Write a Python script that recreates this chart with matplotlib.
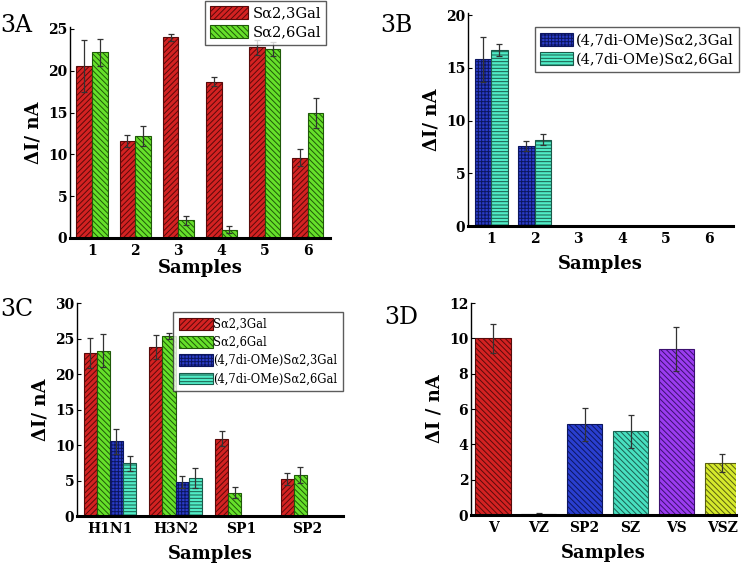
import matplotlib
matplotlib.use("Agg")
import matplotlib.pyplot as plt
import numpy as np

plt.rcParams['font.family'] = ['DejaVu Serif']
plt.rcParams['hatch.linewidth'] = 0.7

# ---- donnees panneau 3A ----
samplesA = ['1', '2', '3', '4', '5', '6']
a23 = [20.6, 11.6, 24.0, 18.7, 22.8, 9.6]
a23_err = [3.1, 0.7, 0.4, 0.55, 0.9, 1.0]
a26 = [22.2, 12.2, 2.1, 1.0, 22.6, 15.0]
a26_err = [1.6, 1.2, 0.5, 0.45, 0.8, 1.8]

# ---- donnees panneau 3B ----
samplesB = ['1', '2', '3', '4', '5', '6']
b23 = [15.8, 7.6, 0, 0, 0, 0]
b23_err = [2.1, 0.45, 0, 0, 0, 0]
b26 = [16.7, 8.2, 0, 0, 0, 0]
b26_err = [0.55, 0.5, 0, 0, 0, 0]

# ---- donnees panneau 3C ----
samplesC = ['H1N1', 'H3N2', 'SP1', 'SP2']
c23 = [23.0, 23.8, 10.9, 5.2]
c23_err = [2.1, 1.75, 1.05, 0.85]
c26 = [23.3, 25.4, 3.3, 5.75]
c26_err = [2.3, 0.4, 0.8, 1.1]
c23me = [10.5, 4.8, 0, 0]
c23me_err = [1.75, 0.8, 0, 0]
c26me = [7.4, 5.4, 0, 0]
c26me_err = [1.0, 1.4, 0, 0]

# ---- donnees panneau 3D ----
samplesD = ['V', 'VZ', 'SP2', 'SZ', 'VS', 'VSZ']
dvals = [10.0, 0.06, 5.15, 4.75, 9.4, 2.95]
derr = [0.83, 0.05, 0.93, 0.93, 1.25, 0.5]
dcolors = ['#d42222', '#1a1a1a', '#2a3fd0', '#48e0c0', '#9b3cf0', '#d6ea2c']
dedges = ['#5a0a0a', '#1a1a1a', '#0c1660', '#1a6050', '#3c1070', '#5a6010']

RED, RED_E = '#d42222', '#5a0a0a'
GREEN, GREEN_E = '#66e02a', '#1f5a08'
BLUE, BLUE_E = '#2a3cc8', '#0c1660'
TEAL, TEAL_E = '#50ecc6', '#1a5a4a'

lab = 'S\u03b12,3Gal'
lab6 = 'S\u03b12,6Gal'
labme = '(4,7di-OMe)S\u03b12,3Gal'
labme6 = '(4,7di-OMe)S\u03b12,6Gal'

ekw = dict(ecolor='#333333', elinewidth=0.9, capsize=2.5, capthick=0.9)

fig = plt.figure(figsize=(7.42, 5.68), dpi=100)


#Fonction qui met en forme un axe
def style(ax, ymax, step, names, ylab, xpad=2):
    ax.set_ylim(0, ymax)
    ax.set_yticks(np.arange(0, ymax + 0.01, step))
    ax.set_xticks(np.arange(len(names)))
    ax.set_xticklabels(names)
    ax.spines['top'].set_visible(False)
    ax.spines['right'].set_visible(False)
    ax.spines['left'].set_linewidth(1.0)
    ax.spines['bottom'].set_linewidth(2.2)
    ax.tick_params(axis='y', direction='in', length=3, width=0.8, labelsize=10, pad=2)
    ax.tick_params(axis='x', length=0, labelsize=10, pad=4)
    for t in ax.get_xticklabels() + ax.get_yticklabels():
        t.set_fontweight('bold')
    ax.set_xlabel('Samples', fontsize=13, fontweight='bold', labelpad=xpad)
    ax.set_ylabel(ylab, fontsize=13, fontweight='bold', labelpad=4)


# ---- 3A ----
axA = fig.add_axes([0.0943, 0.581, 0.3504, 0.371])
x = np.arange(len(samplesA))
w = 0.36
axA.bar(x - w/2, a23, w, yerr=a23_err, color=RED, edgecolor=RED_E, hatch='//////', linewidth=0.8, label=lab, error_kw=ekw)
axA.bar(x + w/2, a26, w, yerr=a26_err, color=GREEN, edgecolor=GREEN_E, hatch='\\\\\\\\\\\\', linewidth=0.8, label=lab6, error_kw=ekw)
axA.set_xlim(-0.51, 5.51)
style(axA, 25.2, 5, samplesA, '\u0394I/ nA', xpad=1)
axA.legend(loc='upper right', bbox_to_anchor=(326/742, 1 - 1/568), bbox_transform=fig.transFigure,
           borderaxespad=0, fontsize=10.5, frameon=True, fancybox=False, edgecolor='#333333',
           handlelength=2.6, handleheight=1.0, borderpad=0.35, labelspacing=0.3, handletextpad=0.3)

# ---- 3B ----
axB = fig.add_axes([0.6307, 0.602, 0.357, 0.375])
x = np.arange(len(samplesB))
w = 0.38
axB.bar(x - w/2, b23, w, yerr=b23_err, color=BLUE, edgecolor=BLUE_E, hatch='+++++', linewidth=0.8, label=labme, error_kw=ekw)
axB.bar(x + w/2, b26, w, yerr=b26_err, color=TEAL, edgecolor=TEAL_E, hatch='-----', linewidth=0.8, label=labme6, error_kw=ekw)
axB.set_xlim(-0.53, 5.55)
style(axB, 20.2, 5, samplesB, '\u0394I/ nA', xpad=7)
axB.legend(loc='upper right', bbox_to_anchor=(739/742, 1 - 27/568), bbox_transform=fig.transFigure,
           borderaxespad=0, fontsize=10.5, frameon=True, fancybox=False, edgecolor='#333333',
           handlelength=2.2, handleheight=1.0, borderpad=0.4, labelspacing=0.3, handletextpad=0.2)

# ---- 3C ----
axC = fig.add_axes([0.1038, 0.0915, 0.3585, 0.375])
x = np.arange(len(samplesC))
w = 0.2
axC.bar(x - 1.5*w, c23, w, yerr=c23_err, color=RED, edgecolor=RED_E, hatch='//////', linewidth=0.8, label=lab, error_kw=ekw)
axC.bar(x - 0.5*w, c26, w, yerr=c26_err, color=GREEN, edgecolor=GREEN_E, hatch='\\\\\\\\\\\\', linewidth=0.8, label=lab6, error_kw=ekw)
axC.bar(x + 0.5*w, c23me, w, yerr=c23me_err, color=BLUE, edgecolor=BLUE_E, hatch='+++++', linewidth=0.8, label=labme, error_kw=ekw)
axC.bar(x + 1.5*w, c26me, w, yerr=c26me_err, color=TEAL, edgecolor=TEAL_E, hatch='-----', linewidth=0.8, label=labme6, error_kw=ekw)
axC.set_xlim(-0.5, 3.55)
style(axC, 30, 5, samplesC, '\u0394I/ nA', xpad=7)
axC.legend(loc='upper right', bbox_to_anchor=(343/742, 1 - 312/568), bbox_transform=fig.transFigure,
           borderaxespad=0, fontsize=8.3, frameon=True, fancybox=False, edgecolor='#333333',
           handlelength=3.0, handleheight=1.2, borderpad=0.5, labelspacing=0.45, handletextpad=0.0)

# ---- 3D ----
axD = fig.add_axes([0.6348, 0.0933, 0.357, 0.373])
x = np.arange(len(samplesD))
axD.bar(x, dvals, 0.77, yerr=derr, color=dcolors, edgecolor=dedges, hatch='\\\\\\\\\\\\', linewidth=0.8, error_kw=ekw)
axD.set_xlim(-0.48, 5.3)
style(axD, 12, 2, samplesD, '\u0394I / nA', xpad=7)

# etiquettes des panneaux
for txt, px, py in [('3A', 0, 25), ('3B', 380, 25), ('3C', 0, 310), ('3D', 384, 318)]:
    fig.text(px/742, 1 - py/568, txt, fontsize=17, ha='left', va='center')

fig.savefig('out.png', dpi=100)
